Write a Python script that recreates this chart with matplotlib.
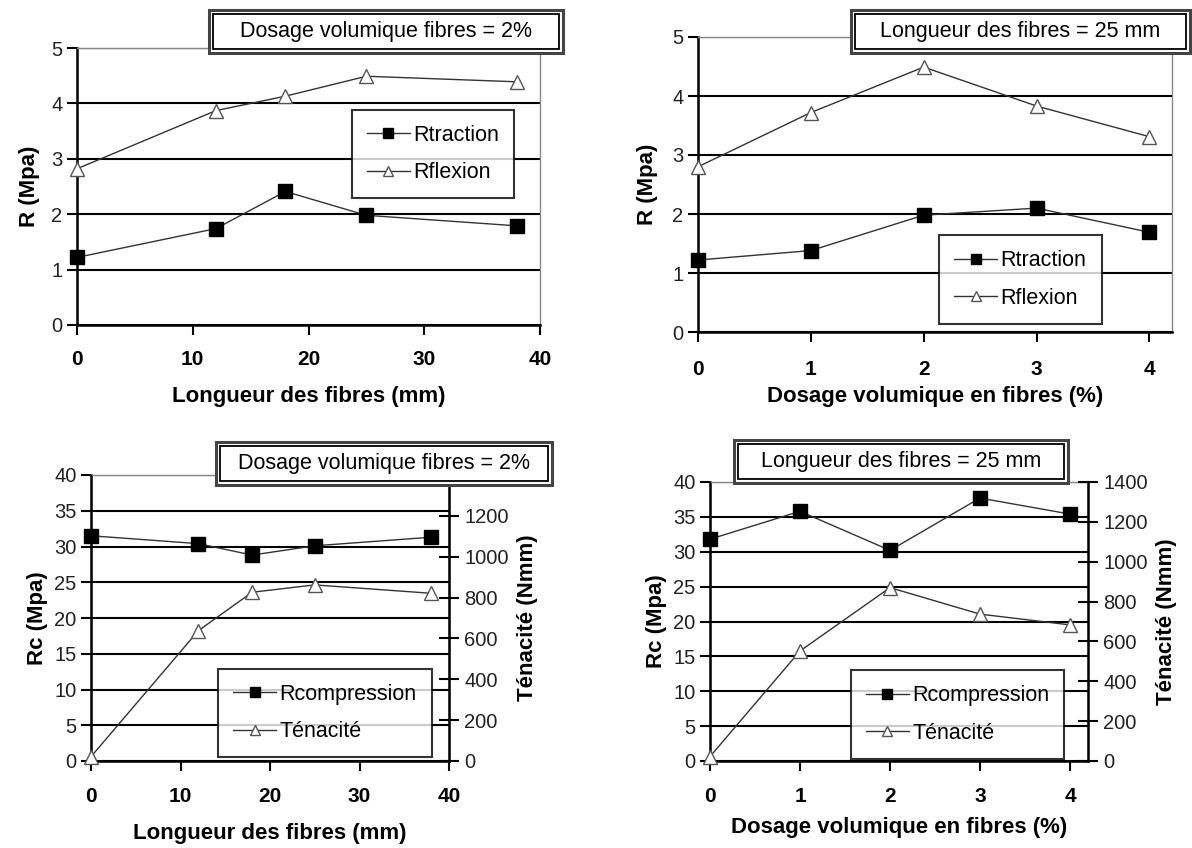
import numpy as np
import matplotlib
matplotlib.use("Agg")
import matplotlib.pyplot as plt
from matplotlib.patches import Rectangle

plt.rcParams['font.family'] = ['Liberation Sans', 'DejaVu Sans']

# data
length = [0, 12, 18, 25, 38]
dosage = [0, 1, 2, 3, 4]
rtraction_len = [1.22, 1.74, 2.41, 1.98, 1.79]
rflexion_len = [2.82, 3.87, 4.13, 4.49, 4.39]
rtraction_dos = [1.22, 1.38, 1.98, 2.1, 1.69]
rflexion_dos = [2.80, 3.72, 4.49, 3.83, 3.31]
rcomp_len = [31.5, 30.4, 28.8, 30.1, 31.3]
tenacite_len = [21, 638, 826, 862, 821]
rcomp_dos = [31.8, 35.8, 30.2, 37.7, 35.4]
tenacite_dos = [22, 552, 870, 737, 683]

W, H = 1192, 848
fig = plt.figure(figsize=(W / 100, H / 100), dpi=100)


def px_axes(left, top, right, bottom):
    return fig.add_axes([left / W, 1 - bottom / H, (right - left) / W, (bottom - top) / H])


def title_box(x0, y0, x1, y1, text):
    # double framed caption box, pixel coords from top-left
    outer = Rectangle((x0 / W, 1 - y1 / H), (x1 - x0) / W, (y1 - y0) / H,
                      transform=fig.transFigure, facecolor='white',
                      edgecolor='#444444', lw=2.2, zorder=10)
    d = 4
    inner = Rectangle(((x0 + d) / W, 1 - (y1 - d) / H), (x1 - x0 - 2 * d) / W,
                      (y1 - y0 - 2 * d) / H, transform=fig.transFigure,
                      facecolor='white', edgecolor='black', lw=1.3, zorder=11)
    fig.add_artist(outer)
    fig.add_artist(inner)
    fig.text((x0 + x1) / 2 / W, 1 - (y0 + y1) / 2 / H, text, ha='center',
             va='center', fontsize=15.5, zorder=12)


def style_axes(ax, xpad):
    ax.yaxis.grid(True, color='black', lw=1.5)
    ax.set_axisbelow(True)
    for s in ('top', 'right'):
        ax.spines[s].set_color('#888888')
        ax.spines[s].set_linewidth(1.0)
    for s in ('left', 'bottom'):
        ax.spines[s].set_linewidth(1.8)
    ax.tick_params(axis='y', direction='out', length=7, width=1.5,
                   labelsize=14.5, labelcolor='#222222')
    ax.tick_params(axis='x', direction='out', length=7, width=1.5,
                   labelsize=15, pad=xpad)
    for lab in ax.get_xticklabels():
        lab.set_fontweight('bold')


def plot_pair(ax, x, y1, y2, lab1, lab2):
    l1, = ax.plot(x, y1, color='#333333', lw=1.0, marker='s', ms=10,
                  mfc='black', mec='black', label=lab1, clip_on=False, zorder=5)
    l2, = ax.plot(x, y2, color='#333333', lw=1.0, marker='^', ms=10,
                  mfc='white', mec='#555555', label=lab2, clip_on=False, zorder=5)
    return l1, l2


def legend_box(ax, handles, x0, y0, x1, y1):
    leg = ax.legend(handles=handles, loc='center',
                    bbox_to_anchor=((x0 + x1) / 2 / W, 1 - (y0 + y1) / 2 / H),
                    bbox_transform=fig.transFigure, frameon=True, fancybox=False,
                    edgecolor='black', fontsize=15.5, handlelength=2.0,
                    handletextpad=0.15, labelspacing=0.75, borderpad=0.7,
                    markerscale=0.75)
    leg.get_frame().set_linewidth(1.5)
    leg.set_zorder(20)
    return leg


# top-left
ax1 = px_axes(77, 48, 540, 325)
h = plot_pair(ax1, length, rtraction_len, rflexion_len, 'Rtraction', 'Rflexion')
ax1.set_xlim(0, 40)
ax1.set_ylim(0, 5)
ax1.set_xticks([0, 10, 20, 30, 40])
ax1.set_yticks([0, 1, 2, 3, 4, 5])
style_axes(ax1, 11)
ax1.set_xlabel('Longueur des fibres (mm)', fontsize=16, fontweight='bold', labelpad=12)
ax1.set_ylabel('R (Mpa)', fontsize=16, fontweight='bold', labelpad=8)
legend_box(ax1, h, 322, 115, 544, 193)
title_box(209, 10, 563, 53, 'Dosage volumique fibres = 2%')

# top-right
ax2 = px_axes(698, 37, 1172, 332)
h = plot_pair(ax2, dosage, rtraction_dos, rflexion_dos, 'Rtraction', 'Rflexion')
ax2.set_xlim(0, 4.2)
ax2.set_ylim(0, 5)
ax2.set_xticks(dosage)
ax2.set_yticks([0, 1, 2, 3, 4, 5])
style_axes(ax2, 13)
ax2.set_xlabel('Dosage volumique en fibres (%)', fontsize=16, fontweight='bold', labelpad=5)
ax2.set_ylabel('R (Mpa)', fontsize=16, fontweight='bold', labelpad=10)
legend_box(ax2, h, 938, 242, 1103, 317)
title_box(851, 10, 1190, 53, 'Longueur des fibres = 25 mm')


def twin_panel(rect, x, rc, ten, xlim, xticks, xlabel, xlabelpad, rticks,
               leg_rect, box_rect, box_text):
    ax = px_axes(*rect)
    axr = ax.twinx()
    l1, = ax.plot(x, rc, color='#333333', lw=1.0, marker='s', ms=10,
                  mfc='black', mec='black', label='Rcompression', clip_on=False, zorder=5)
    l2, = axr.plot(x, ten, color='#333333', lw=1.0, marker='^', ms=10,
                   mfc='white', mec='#555555', label='Ténacité', clip_on=False, zorder=5)
    ax.set_xlim(*xlim)
    ax.set_ylim(0, 40)
    ax.set_yticks(range(0, 41, 5))
    ax.set_xticks(xticks)
    axr.set_ylim(0, 1400)
    axr.set_yticks(rticks)
    style_axes(ax, 12)
    axr.spines['right'].set_color('black')
    axr.spines['right'].set_linewidth(1.8)
    axr.spines['top'].set_visible(False)
    axr.tick_params(axis='y', direction='inout', length=14, width=1.5,
                    labelsize=14.5, labelcolor='#222222', pad=4)
    ax.set_xlabel(xlabel, fontsize=16, fontweight='bold', labelpad=xlabelpad)
    ax.set_ylabel('Rc (Mpa)', fontsize=16, fontweight='bold', labelpad=4)
    axr.set_ylabel('Ténacité (Nmm)', fontsize=16, fontweight='bold', labelpad=6)
    legend_box(axr, [l1, l2], *leg_rect)
    title_box(*box_rect, box_text)
    return ax, axr


twin_panel((91, 475, 449, 761), length, rcomp_len, tenacite_len, (0, 40),
           [0, 10, 20, 30, 40], 'Longueur des fibres (mm)', 12,
           range(0, 1201, 200),
           (219, 673, 431, 753), (216, 442, 552, 485), 'Dosage volumique fibres = 2%')
twin_panel((710, 482, 1088, 761), dosage, rcomp_dos, tenacite_dos, (0, 4.2),
           dosage, 'Dosage volumique en fibres (%)', 8,
           range(0, 1401, 200),
           (841, 676, 1074, 753), (734, 440, 1068, 483), 'Longueur des fibres = 25 mm')

fig.savefig('out.png', dpi=100)
